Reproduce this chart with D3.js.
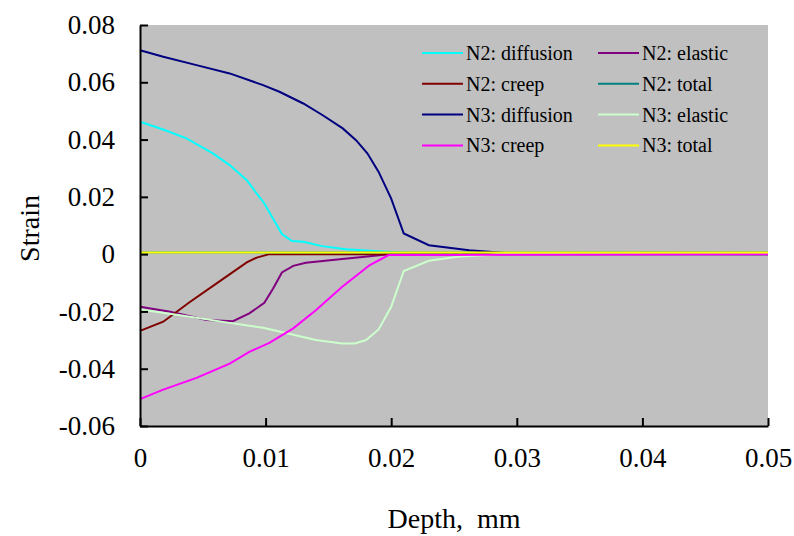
<!DOCTYPE html>
<html>
<head>
<meta charset="utf-8">
<script src="https://cdn.jsdelivr.net/npm/d3@7"></script>
<style>
  body { margin: 0; background: #fff; }
</style>
</head>
<body>
<div id="chart"></div>
<script>
/// Chart data (depth in mm, strain) ///
var n2DiffDepth  = [0, 0.00185, 0.0037, 0.0058, 0.00714, 0.0085, 0.0099, 0.0113, 0.0121, 0.013, 0.0145, 0.0164, 0.019, 0.0209, 0.024, 0.05];
var n2DiffStrain = [0.0462, 0.0435, 0.0404, 0.0352, 0.0311, 0.0258, 0.0177, 0.007, 0.0046, 0.0043, 0.0028, 0.0017, 0.001, 0.0006, 0, 0];

var n2ElasDepth  = [0, 0.0024, 0.0053, 0.0074, 0.0087, 0.0099, 0.0106, 0.0113, 0.0122, 0.0132, 0.0161, 0.0183, 0.0198, 0.05];
var n2ElasStrain = [-0.0184, -0.0201, -0.023, -0.0234, -0.0207, -0.017, -0.012, -0.0064, -0.0041, -0.003, -0.0017, -0.0007, 0, 0];

var n2CreepDepth  = [0, 0.00185, 0.00397, 0.0061, 0.0085, 0.0093, 0.0103, 0.05];
var n2CreepStrain = [-0.0268, -0.0236, -0.0167, -0.0102, -0.0029, -0.0012, 0, 0];

var n2TotalDepth  = [0, 0.05];
var n2TotalStrain = [0.0006, 0.0006];

var n3DiffDepth  = [0, 0.00185, 0.0045, 0.00714, 0.0098, 0.0111, 0.013, 0.01455, 0.01614, 0.0172, 0.0181, 0.019, 0.02, 0.021, 0.023, 0.0262, 0.0294, 0.05];
var n3DiffStrain = [0.0712, 0.0689, 0.066, 0.0631, 0.059, 0.0567, 0.0526, 0.0485, 0.0439, 0.0398, 0.0352, 0.0287, 0.0194, 0.0072, 0.0031, 0.0014, 0.0003, 0];

var n3ElasDepth  = [0, 0.0032, 0.00714, 0.0098, 0.0116, 0.014, 0.0161, 0.0171, 0.018, 0.019, 0.02, 0.021, 0.023, 0.0253, 0.0286, 0.05];
var n3ElasStrain = [-0.0193, -0.0213, -0.024, -0.0257, -0.0275, -0.03, -0.0312, -0.0312, -0.03, -0.0263, -0.0184, -0.0059, -0.0023, -0.0009, 0, 0];

var n3CreepDepth  = [0, 0.00185, 0.0045, 0.00714, 0.0087, 0.0103, 0.0122, 0.014, 0.0161, 0.0183, 0.0198, 0.05];
var n3CreepStrain = [-0.0506, -0.0473, -0.0432, -0.0382, -0.0341, -0.031, -0.0259, -0.0196, -0.0114, -0.0038, -0.0003, 0];

var n3TotalDepth  = [0, 0.05];
var n3TotalStrain = [0.0006, 0.0006];

var seriesNames  = ["N2: diffusion", "N2: elastic", "N2: creep", "N2: total",
                    "N3: diffusion", "N3: elastic", "N3: creep", "N3: total"];
var seriesColors = ["#00ffff", "#800080", "#800000", "#008080",
                    "#000080", "#ccffcc", "#ff00ff", "#ffff00"];
var seriesDepth  = [n2DiffDepth, n2ElasDepth, n2CreepDepth, n2TotalDepth,
                    n3DiffDepth, n3ElasDepth, n3CreepDepth, n3TotalDepth];
var seriesStrain = [n2DiffStrain, n2ElasStrain, n2CreepStrain, n2TotalStrain,
                    n3DiffStrain, n3ElasStrain, n3CreepStrain, n3TotalStrain];

var xTicks = [0, 0.01, 0.02, 0.03, 0.04, 0.05];
var yTicks = [-0.06, -0.04, -0.02, 0, 0.02, 0.04, 0.06, 0.08];

var FONT = "'Liberation Serif'";

/// SVG area ///
var svgWidth = 794;
var svgHeight = 536;
var margin = { top: 25, right: 26, bottom: 110, left: 140 };
var width = svgWidth - margin.left - margin.right;
var height = svgHeight - margin.top - margin.bottom;

var svg = d3.select("#chart")
    .append("svg")
    .attr("width", svgWidth)
    .attr("height", svgHeight)
    .style("font-family", FONT);

var g = svg.append("g")
    .attr("transform", `translate(${margin.left}, ${margin.top})`);

/// Scales ///
var x_scale = d3.scaleLinear().domain([0, 0.05]).range([0, width]);
var y_scale = d3.scaleLinear().domain([-0.06, 0.08]).range([height, 0]);

// plot area background
g.append("rect")
    .attr("width", width)
    .attr("height", height)
    .attr("fill", "#c0c0c0");

/// Lines ///
var line = d3.line()
    .x(d => x_scale(d[0]))
    .y(d => y_scale(d[1]));

seriesNames.forEach(function (name, i) {
    var pts = seriesDepth[i].map((dx, k) => [dx, seriesStrain[i][k]]);
    g.append("path")
        .datum(pts)
        .attr("fill", "none")
        .attr("stroke", seriesColors[i])
        .attr("stroke-width", 2)
        .attr("d", line);
});

/// Axes (ticks point inward) ///
var lower_axis = d3.axisBottom(x_scale)
    .tickValues(xTicks)
    .tickSizeInner(-8)
    .tickSizeOuter(0)
    .tickPadding(22)
    .tickFormat(d => d === 0 ? "0" : d3.format(".2f")(d));

var left_axis = d3.axisLeft(y_scale)
    .tickValues(yTicks)
    .tickSizeInner(-8)
    .tickSizeOuter(0)
    .tickPadding(25)
    .tickFormat(d => d === 0 ? "0" : d3.format(".2f")(d).replace("−", "-"));

var xg = g.append("g").attr("transform", `translate(0, ${height})`).call(lower_axis);
var yg = g.append("g").call(left_axis);

[xg, yg].forEach(function (a) {
    a.attr("font-family", null).attr("font-size", null);
    a.select(".domain").attr("stroke", "#000").attr("stroke-width", 2);
    a.selectAll(".tick line").attr("stroke", "#000").attr("stroke-width", 2);
    a.selectAll(".tick text")
        .style("font-family", FONT)
        .style("font-size", "27px")
        .attr("fill", "#000");
});

/// Axis labels ///
svg.append("text")
    .attr("transform", `translate(39, ${margin.top + height / 2 + 3}) rotate(-90)`)
    .attr("text-anchor", "middle")
    .style("font-family", FONT)
    .style("font-size", "28px")
    .text("Strain");

svg.append("text")
    .attr("x", margin.left + width / 2)
    .attr("y", 528)
    .attr("text-anchor", "middle")
    .style("font-family", FONT)
    .style("font-size", "28px")
    .style("white-space", "pre")
    .text("Depth,  mm");

/// Legend (two columns, row-wise) ///
var legend = g.append("g");
seriesNames.forEach(function (name, i) {
    var col = i % 2;
    var row = Math.floor(i / 2);
    var lx = col === 0 ? 282 : 458;
    var ly = 28 + row * 30.8;
    legend.append("line")
        .attr("x1", lx).attr("x2", lx + 41)
        .attr("y1", ly).attr("y2", ly)
        .attr("stroke", seriesColors[i])
        .attr("stroke-width", 2);
    legend.append("text")
        .attr("x", lx + 44)
        .attr("y", ly)
        .attr("dy", "0.35em")
        .style("font-family", FONT)
        .style("font-size", "20px")
        .text(name);
});
</script>
</body>
</html>
